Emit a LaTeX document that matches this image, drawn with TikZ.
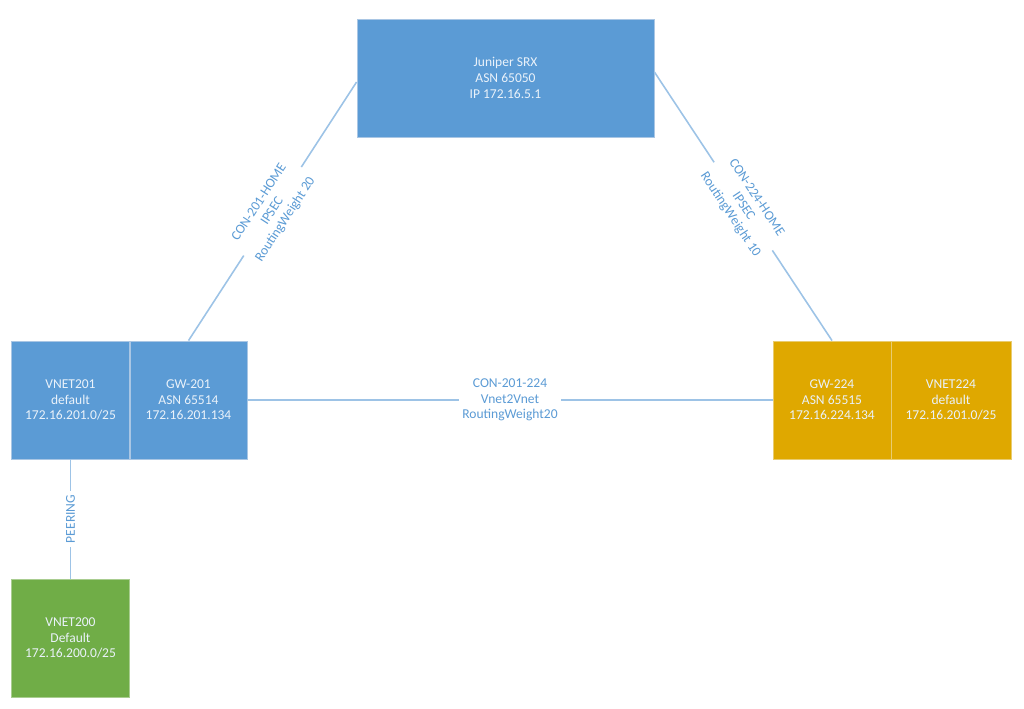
\documentclass[tikz,border=0pt]{standalone}
\usepackage{fontspec}
\setmainfont{Carlito}
\usetikzlibrary{calc, positioning, shadows}
\definecolor{mainBlue}{HTML}{5B9BD5}
\definecolor{lineBlue}{HTML}{9DC3E6}
\definecolor{edgeBlue}{HTML}{A9C6E4}
\definecolor{mainGold}{HTML}{DFA800}
\definecolor{edgeGold}{HTML}{E9CC70}
\definecolor{mainGreen}{HTML}{70AD47}
\definecolor{edgeGreen}{HTML}{A9CD90}
\definecolor{textLight}{HTML}{EAF2FA}
\tikzset{
    netbox/.style={draw=edgeBlue, line width=0.5pt, fill=mainBlue, text=textLight, align=center,
        minimum width=2.36cm, minimum height=2.36cm, inner sep=0pt, font=\fontsize{7.7}{8.9}\selectfont,
        drop shadow={shadow xshift=0.4pt, shadow yshift=-0.8pt, opacity=0.3}},
    goldbox/.style={netbox, draw=edgeGold, fill=mainGold},
    greenbox/.style={netbox, draw=edgeGreen, fill=mainGreen},
    link/.style={draw=lineBlue, line width=0.9pt},
    linklabel/.style={fill=white, text=mainBlue, align=center, inner sep=2pt, font=\fontsize{7.7}{8.9}\selectfont},
}

\begin{document}
\begin{tikzpicture}[x=0.02cm, y=-0.02cm]
    \useasboundingbox (0,0) rectangle (1024,708);

    % Boxes
    \node[netbox, minimum width=5.94cm] (srx) at (505.5,78) {Juniper SRX\\ASN 65050\\IP 172.16.5.1};
    \node[netbox] (vnet201) at (70.5,400) {VNET201\\default\\172.16.201.0/25};
    \node[netbox, minimum width=2.34cm] (gw201) at (188.5,400) {GW-201\\ASN 65514\\172.16.201.134};
    \node[goldbox, minimum width=2.36cm] (gw224) at (832,400) {GW-224\\ASN 65515\\172.16.224.134};
    \node[goldbox, minimum width=2.4cm] (vnet224) at (951,400) {VNET224\\default\\172.16.201.0/25};
    \node[greenbox] (vnet200) at (70.5,638) {VNET200\\Default\\172.16.200.0/25};

    % Connections
    \draw[link] ($(srx.west)+(0,4)$) -- (gw201.north)
        node[linklabel, midway, rotate=57] {CON-201-HOME\\IPSEC\\RoutingWeight 20};
    \draw[link] ($(srx.east)+(0,-6)$) -- (gw224.north)
        node[linklabel, midway, rotate=-56.5] {CON-224-HOME\\IPSEC\\RoutingWeight 10};
    \draw[link] (gw201.east) -- (gw224.west)
        node[linklabel, midway] {CON-201-224\\Vnet2Vnet\\RoutingWeight20};
    \draw[link] (vnet201.south) -- (vnet200.north)
        node[linklabel, midway, rotate=90] {PEERING};
\end{tikzpicture}
\end{document}
